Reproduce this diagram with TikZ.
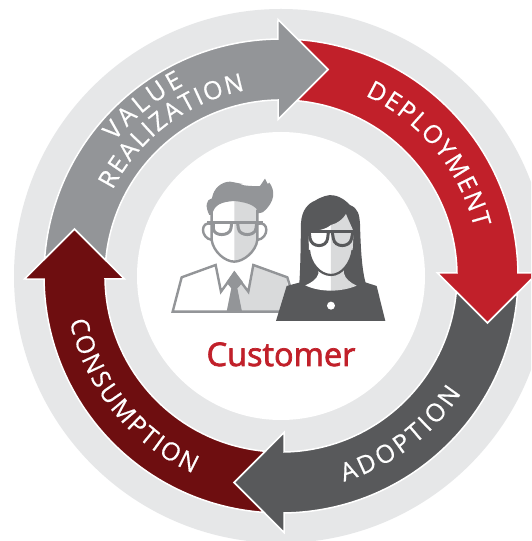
\documentclass[tikz,border=0pt]{standalone}
\usepackage{fontspec}
\setmainfont{Open Sans}
\newfontfamily\custfont[FakeBold=2.2]{Open Sans}
\newfontfamily\bandfont[FakeBold=0.5]{Open Sans}
\usetikzlibrary{decorations.text}
\definecolor{ringgray}{HTML}{E6E7E8}
\definecolor{midgray}{HTML}{939598}
\definecolor{dkgray}{HTML}{58595B}
\definecolor{litegray}{HTML}{D9DADB}
\definecolor{brand}{HTML}{C1202A}
\definecolor{maroon}{HTML}{6E0E10}
\tikzset{
  cyclearrow/.style={draw=white,line width=1.5pt,line join=miter,miter limit=10},
  manline/.style={draw=midgray,line width=2.4pt,line join=miter},
  womanline/.style={draw=dkgray,line width=2.2pt},
  manglass/.style={draw=midgray,line width=3pt},
  womanglass/.style={draw=dkgray,line width=3pt},
}
\newcommand{\arrowshape}[2]{%
  \begin{scope}[shift={(281,265)},rotate=#1]
    \path[cyclearrow,fill=#2] (17.1,236.4)
      arc[start angle=85.86,end angle=0.73,radius=237pt]
      -- (256.5,3) -- (206.5,-47) -- (156.5,3) -- (176,3)
      arc[start angle=0.98,end angle=84.85,radius=176pt]
      -- (47,206.5) -- cycle;
  \end{scope}}
\newcommand{\curvetext}[5]{% size, radius, start, end, text
  \path[shift={(281,265)},postaction={decorate,decoration={text along path,text align={fit to path},
     text={|\bandfont\fontsize{#1}{#1}\selectfont\color{white}|#5}}}]
     (#3:#2) arc[start angle=#3,end angle=#4,radius=#2 pt];}
\begin{document}
\begin{tikzpicture}[x=1pt,y=1pt]
\useasboundingbox (0,0) rectangle (531,541);
\clip (0,0) rectangle (531,541);
\fill[white] (0,0) rectangle (531,541);
\fill[ringgray] (281,265) circle[radius=267pt];
\fill[white] (281,265) circle[radius=144pt];
\arrowshape{0}{brand}
\arrowshape{-90}{dkgray}
\arrowshape{-180}{maroon}
\arrowshape{-270}{midgray}
\curvetext{25}{199}{65}{14}{DEPLOYMENT}
\curvetext{25}{215}{-73}{-33}{ADOPTION}
\curvetext{25}{216}{192}{246}{CONSUMPTION}
\curvetext{25}{214}{141}{117}{VALUE}
\curvetext{25}{189}{153}{101}{REALIZATION}
% figures, drawn in the coordinates of a 3x crop
\begin{scope}[shift={(150,381)},x=0.3333pt,y=-0.3333pt]
  % man: body
  \fill[litegray] (253,340) -- (295,395) -- (310,318) -- (410,354) -- (425,455) -- (253,455) -- cycle;
  \draw[manline] (400,455) -- (68,455) -- (95,352) -- (197,315) -- (213,395) -- (253,340) -- (295,395) -- (310,315) -- (412,352) -- (422,385);
  \fill[midgray] (253,332) -- (229,367) -- (244,385) -- (230,455) -- (276,455) -- (262,385) -- (279,367) -- cycle;
  % man: ears and head
  \draw[midgray,line width=2.4pt] (186,192) .. controls (150,180) and (150,235) .. (186,240);
  \draw[midgray,line width=2.4pt] (322,192) .. controls (358,180) and (358,235) .. (322,240);
  \fill[white] (185,130) -- (322,130) -- (322,240) .. controls (318,275) and (280,305) .. (253,305) .. controls (225,305) and (190,275) .. (185,240) -- cycle;
  \fill[litegray] (253,122) -- (322,130) -- (322,240) .. controls (318,275) and (280,305) .. (253,305) -- cycle;
  \draw[manline] (185,140) -- (185,240) .. controls (190,275) and (225,305) .. (253,305) .. controls (280,305) and (318,275) .. (322,240) -- (322,150);
  % man: hair
  \fill[midgray] (178,165) .. controls (165,140) and (168,118) .. (186,115)
     .. controls (190,85) and (215,65) .. (240,65) .. controls (255,67) and (265,70) .. (278,72)
     .. controls (258,72) and (290,80) .. (330,78) -- (345,56) -- (353,72) -- (358,68)
     .. controls (375,90) and (378,125) .. (338,157) -- (325,160)
     .. controls (322,140) and (300,128) .. (253,123) .. controls (215,125) and (190,135) .. (187,165) -- cycle;
  % man: glasses
  \draw[manglass] (190,190) -- (190,205) .. controls (190,230) and (240,230) .. (243,205) -- (245,190);
  \draw[manglass] (263,190) -- (265,205) .. controls (268,230) and (316,230) .. (318,205) -- (320,190);
  \draw[manglass] (172,188) -- (338,188);
  % woman: hair
  \fill[dkgray] (448,370) .. controls (452,310) and (452,240) .. (453,190)
     .. controls (455,150) and (475,130) .. (495,122) .. controls (515,110) and (535,103) .. (550,106)
     .. controls (575,110) and (590,125) .. (600,135) .. controls (625,145) and (628,165) .. (630,190)
     .. controls (632,260) and (635,330) .. (648,372) -- cycle;
  % woman: torso
  \fill[dkgray] (378,483) -- (410,378) -- (470,362) -- (630,362) -- (680,378) -- (706,483) -- cycle;
  % woman: neck and face
  \fill[white] (505,318) -- (505,342) .. controls (500,358) and (485,368) .. (466,376)
     .. controls (490,388) and (520,392) .. (543,392) -- (543,318) -- cycle;
  \fill[litegray] (543,318) -- (543,392) .. controls (570,392) and (600,386) .. (620,377)
     .. controls (600,368) and (585,355) .. (582,340) -- (582,318) -- cycle;
  \fill[white] (475,215) .. controls (500,212) and (525,210) .. (543,195) -- (543,345)
     .. controls (510,345) and (480,310) .. (477,270) -- cycle;
  \fill[litegray] (543,195) .. controls (565,190) and (580,175) .. (588,162)
     .. controls (595,180) and (605,200) .. (611,215) -- (608,270) .. controls (603,310) and (575,345) .. (543,345) -- cycle;
  \draw[womanline] (477,270) .. controls (480,310) and (510,345) .. (543,345) .. controls (575,345) and (603,310) .. (608,270);
  % woman: glasses
  \draw[womanglass] (478,218) -- (480,235) .. controls (485,264) and (530,264) .. (533,235) -- (535,218);
  \draw[womanglass] (547,218) -- (550,235) .. controls (553,264) and (600,264) .. (605,235) -- (608,218);
  \draw[womanglass] (474,216) -- (612,216);
  \fill[white] (543,437) circle[radius=4pt];
\end{scope}
\node[anchor=base,text=brand,font=\custfont\fontsize{32.5}{33}\selectfont,inner sep=0pt] (customer) at (281,175) {Customer};
\end{tikzpicture}
\end{document}
